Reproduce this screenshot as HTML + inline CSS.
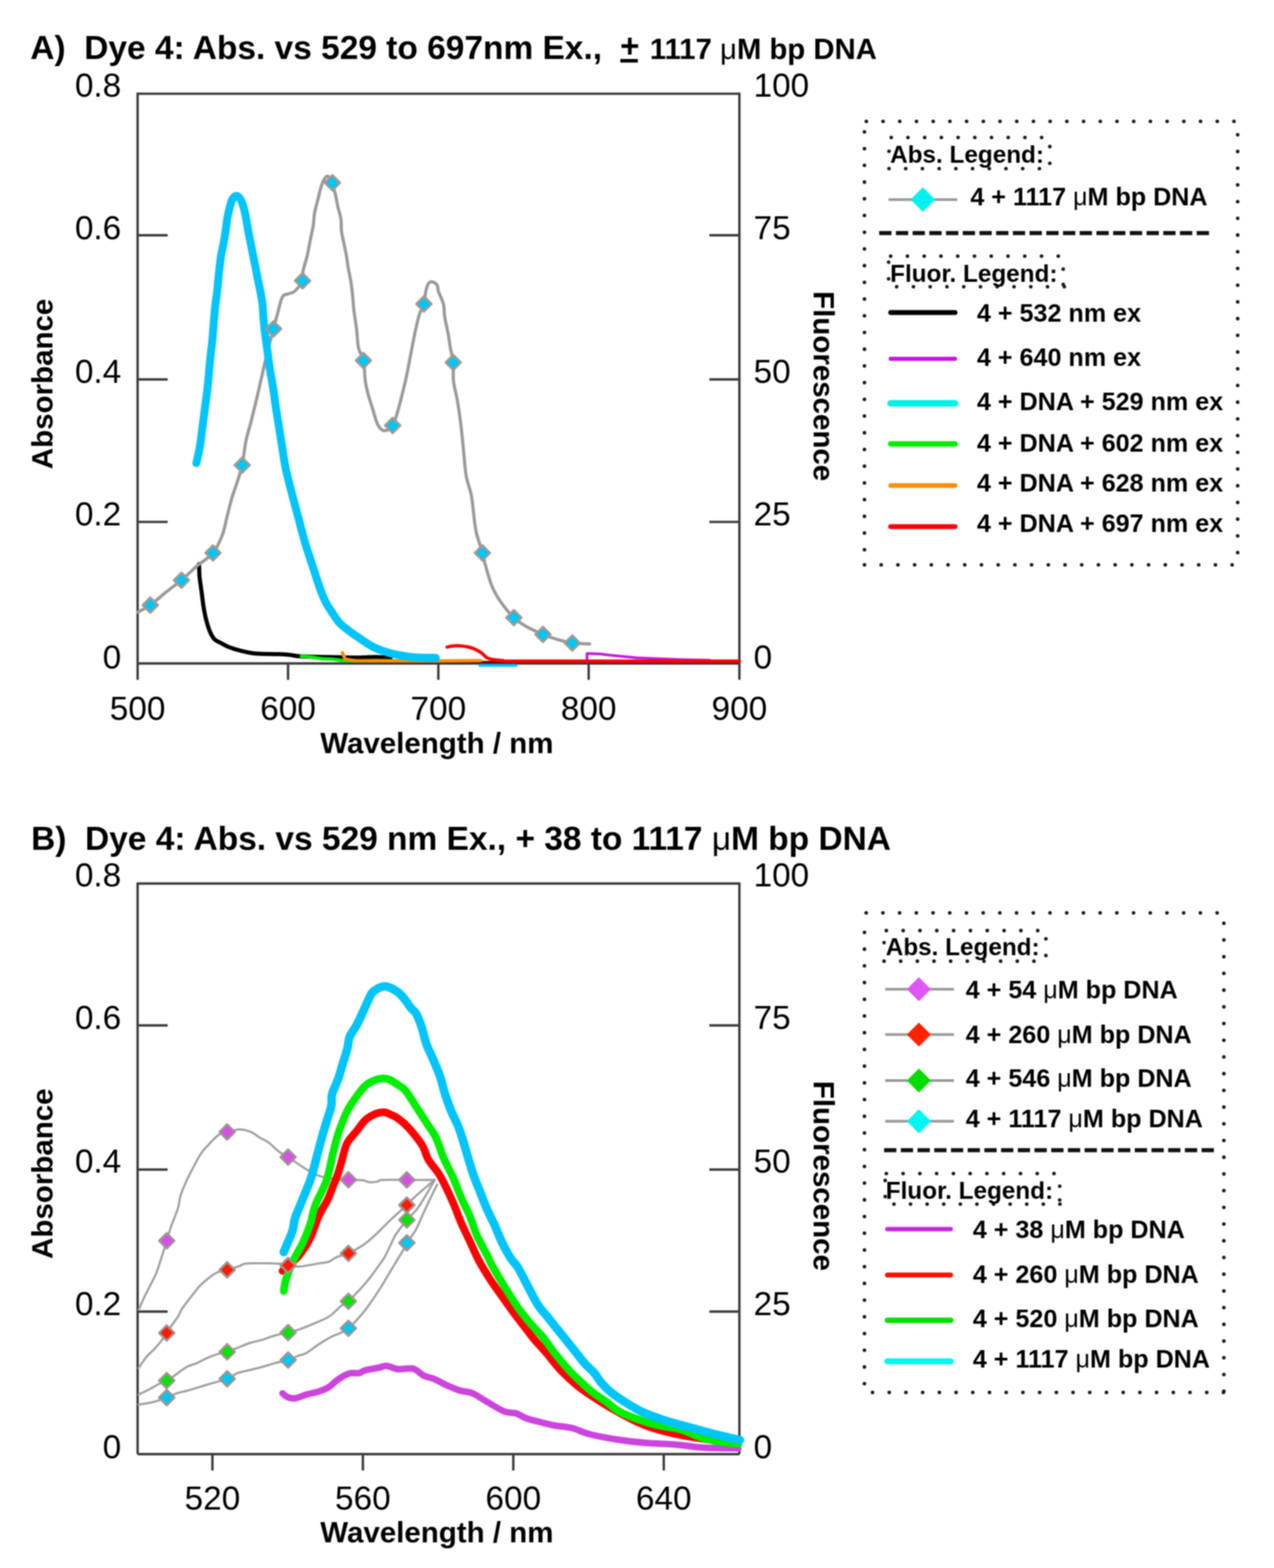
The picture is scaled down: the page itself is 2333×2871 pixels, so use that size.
<!DOCTYPE html>
<html><head><meta charset="utf-8"><title>Dye 4 absorbance and fluorescence</title>
<style>
html,body{margin:0;padding:0;background:#fff;}
body{width:2333px;height:2871px;overflow:hidden;}
svg{display:block;filter:blur(1px);}
text{font-family:"Liberation Sans", Arial, sans-serif;fill:#000;}
</style></head><body>
<svg width="2333" height="2871" viewBox="0 0 2333 2871">
<rect width="2333" height="2871" fill="#fff"/>
<line x1="252" y1="171.6" x2="1354" y2="171.6" stroke="#3c3c3c" stroke-width="4.4"/>
<line x1="252" y1="1214.8" x2="1354" y2="1214.8" stroke="#3c3c3c" stroke-width="4.4"/>
<line x1="252" y1="169.6" x2="252" y2="1244.8" stroke="#3c3c3c" stroke-width="4.4"/>
<line x1="1354" y1="169.6" x2="1354" y2="1244.8" stroke="#3c3c3c" stroke-width="4.4"/>
<line x1="252" y1="430.8" x2="307" y2="430.8" stroke="#3c3c3c" stroke-width="4.4"/>
<line x1="1299" y1="430.8" x2="1354" y2="430.8" stroke="#3c3c3c" stroke-width="4.4"/>
<line x1="252" y1="694.8" x2="307" y2="694.8" stroke="#3c3c3c" stroke-width="4.4"/>
<line x1="1299" y1="694.8" x2="1354" y2="694.8" stroke="#3c3c3c" stroke-width="4.4"/>
<line x1="252" y1="955.6" x2="307" y2="955.6" stroke="#3c3c3c" stroke-width="4.4"/>
<line x1="1299" y1="955.6" x2="1354" y2="955.6" stroke="#3c3c3c" stroke-width="4.4"/>
<line x1="527.5" y1="1214.8" x2="527.5" y2="1244.8" stroke="#3c3c3c" stroke-width="4.4"/>
<line x1="802.7" y1="1214.8" x2="802.7" y2="1244.8" stroke="#3c3c3c" stroke-width="4.4"/>
<line x1="1078" y1="1214.8" x2="1078" y2="1244.8" stroke="#3c3c3c" stroke-width="4.4"/>
<text x="222" y="177" font-size="61" font-weight="normal" text-anchor="end">0.8</text>
<text x="222" y="438" font-size="61" font-weight="normal" text-anchor="end">0.6</text>
<text x="222" y="701" font-size="61" font-weight="normal" text-anchor="end">0.4</text>
<text x="222" y="961.5" font-size="61" font-weight="normal" text-anchor="end">0.2</text>
<text x="222" y="1223.5" font-size="61" font-weight="normal" text-anchor="end">0</text>
<text x="1380" y="177" font-size="61" font-weight="normal" text-anchor="start">100</text>
<text x="1380" y="438" font-size="61" font-weight="normal" text-anchor="start">75</text>
<text x="1380" y="701" font-size="61" font-weight="normal" text-anchor="start">50</text>
<text x="1380" y="961.5" font-size="61" font-weight="normal" text-anchor="start">25</text>
<text x="1380" y="1223.5" font-size="61" font-weight="normal" text-anchor="start">0</text>
<text x="252" y="1317.5" font-size="61" font-weight="normal" text-anchor="middle">500</text>
<text x="527.5" y="1317.5" font-size="61" font-weight="normal" text-anchor="middle">600</text>
<text x="802.7" y="1317.5" font-size="61" font-weight="normal" text-anchor="middle">700</text>
<text x="1078" y="1317.5" font-size="61" font-weight="normal" text-anchor="middle">800</text>
<text x="1354" y="1317.5" font-size="61" font-weight="normal" text-anchor="middle">900</text>
<text x="800" y="1379" font-size="54" font-weight="bold" text-anchor="middle">Wavelength / nm</text>
<text x="96" y="703" font-size="54" font-weight="bold" text-anchor="middle" transform="rotate(-90 96 703)">Absorbance</text>
<text x="1490" y="707" font-size="54" font-weight="bold" text-anchor="middle" transform="rotate(90 1490 707)">Fluorescence</text>
<text x="55.5" y="108" font-size="61.3" font-weight="bold">A)&#160; Dye 4: Abs. vs 529 to 697nm Ex.,<tspan x="1135.5" y="104.6" font-size="61">+</tspan><tspan x="1190" y="108" font-size="53.7">1117 <tspan font-weight="normal">&#956;</tspan>M bp DNA</tspan></text>
<rect x="1136" y="108" width="32" height="6.5" fill="#000"/>
<path d="M820 1212 L1354 1212" fill="none" stroke="#7a0000" stroke-width="4" stroke-linejoin="round" stroke-linecap="round"/>
<path d="M878.5 1218.6 L945 1218.6" fill="none" stroke="#00c8ff" stroke-width="5" stroke-linejoin="round" stroke-linecap="round"/>
<path d="M364.5 1033 C364.7 1036.9 364.7 1048 365.5 1056.5 C366.3 1065 368 1074.9 369.2 1084 C370.4 1093.1 371.4 1102.9 372.8 1111.3 C374.2 1119.7 375.4 1126.6 377.4 1134.2 C379.4 1141.8 382.1 1150.9 384.7 1157 C387.3 1163.1 389.5 1167.3 392.9 1170.7 C396.2 1174.1 400.5 1175.2 404.8 1177.5 C409.1 1179.8 412.4 1182 418.5 1184.4 C424.6 1186.8 433.7 1189.7 441.3 1191.7 C448.9 1193.7 457.8 1195.4 464.2 1196.3 C470.6 1197.2 472 1197 480 1197.2 C488 1197.4 503.7 1197.4 512 1197.7 C520.3 1198 523.6 1198.3 530 1199 C536.4 1199.7 538.7 1201.1 550.4 1201.8 C562.1 1202.5 583.4 1202.6 600 1203 C616.6 1203.4 635 1204 650 1204 C665 1204 679.2 1202.8 690 1203 C700.8 1203.2 710.8 1204.7 715 1205" fill="none" stroke="#000" stroke-width="7.5" stroke-linejoin="round" stroke-linecap="round"/>
<path d="M551.8 1201.6 C554.8 1201.8 563.6 1202.3 570 1203 C576.4 1203.7 583.3 1205.3 590 1206 C596.7 1206.7 603.4 1206.4 610 1207 C616.6 1207.6 621.3 1209 629.6 1209.5 C637.9 1210 648.3 1210 660 1210 C671.7 1210 686.7 1209.5 700 1209.5 C713.3 1209.5 733.3 1209.9 740 1210" fill="none" stroke="#00ee00" stroke-width="6" stroke-linejoin="round" stroke-linecap="round"/>
<path d="M627 1195 L632 1207 L650 1209.5 L700 1210 L760 1210 L820 1210 L880 1209.5" fill="none" stroke="#ff8c00" stroke-width="6" stroke-linejoin="round" stroke-linecap="round"/>
<path d="M1075 1212 L1075 1196.5 L1100 1197.5 L1116 1199.6 L1166.9 1204.4 L1239.7 1207.5 L1300 1209" fill="none" stroke="#c81ae0" stroke-width="5" stroke-linejoin="round" stroke-linecap="round"/>
<path d="M818.8 1184.8 C821.8 1184.4 829.6 1182 837 1182.2 C844.4 1182.4 855.6 1183.9 862.9 1186 C870.2 1188.1 875.8 1191.8 881 1195 C886.2 1198.2 887.5 1203.1 894 1205.5 C900.5 1207.9 909 1208.6 920 1209.4 C931 1210.2 887.7 1210.3 960 1210.5 C1032.3 1210.7 1288.3 1210.5 1354 1210.5" fill="none" stroke="#ff0000" stroke-width="6" stroke-linejoin="round" stroke-linecap="round"/>
<path d="M252 1121 C255.9 1118.8 266.7 1114 275.2 1108 C283.7 1102 293.5 1092.6 303 1085 C312.5 1077.4 322.8 1070.3 332.3 1062.3 C341.8 1054.3 350.4 1045.3 360 1037 C369.6 1028.7 382.2 1021.8 390 1012.3 C397.8 1002.8 402.7 991.2 407 980 C411.3 968.8 413 956.6 416 945 C419 933.4 421.9 920.8 425 910.4 C428.1 900 431.2 892.6 434.3 882.8 C437.4 873 440.8 864.4 443.5 851.7 C446.2 839 447.8 820 450.5 806.7 C453.2 793.4 456.3 785.5 459.7 772 C463.1 758.5 467.6 740.6 471 726 C474.4 711.4 477.2 698.4 480.4 684.6 C483.6 670.8 486.6 656.8 490 643 C493.4 629.2 498 613.3 501 602 C504 590.7 505.3 584.7 508 575 C510.7 565.3 513.7 550.2 517 544 C520.3 537.8 524.2 539.8 528 538 C531.8 536.2 535.7 537 540 533 C544.3 529 551.6 519.9 554 514 C556.4 508.1 553.2 505.4 554.6 497.8 C556 490.2 560.3 478.1 562.5 468.5 C564.7 458.9 566.1 449.8 568 440.4 C569.9 431 572.4 420.8 573.7 412.4 C575 404 574.7 397.5 576 390 C577.3 382.5 579.7 374.9 581.6 367.4 C583.5 359.9 585.5 350.9 587.2 345 C588.9 339.1 590.2 335.3 591.7 332 C593.2 328.7 594.5 326.5 596 325 C597.5 323.5 599 321.4 601 323 C603 324.6 605.8 329.1 608 334.6 C610.2 340.1 612.4 348.9 614.2 356.2 C616 363.5 617 371.2 618.7 378.7 C620.4 386.2 623.2 393.5 624.3 401 C625.4 408.5 624.5 416.1 625.4 423.6 C626.3 431.1 628.4 438.5 629.9 446 C631.4 453.5 633.1 461 634.4 468.5 C635.7 476 636.5 483.5 637.8 491 C639.1 498.5 640.9 505.3 642.2 513.5 C643.5 521.7 644.6 530.9 645.6 540 C646.6 549.1 646.8 557.6 648 568 C649.2 578.4 651.6 591.1 653 602.6 C654.4 614.1 654.4 627.4 656.5 637 C658.6 646.6 663.4 649.9 665.5 660 C667.6 670.1 667.6 687.5 669 697.6 C670.4 707.7 671.4 711.8 673.7 720.6 C676 729.4 680 741 683 750.6 C686 760.2 688.5 771.7 692 778 C695.5 784.3 699.2 788.4 703.7 788.6 C708.2 788.8 714.8 785.3 719 779 C723.2 772.7 725.8 761.1 729 750.6 C732.2 740.1 735.3 726.8 738 716 C740.7 705.2 742.3 699.2 745 686 C747.7 672.8 751.7 650.9 754.4 637 C757.1 623.1 759 612.9 761.3 602.6 C763.6 592.3 765.7 582.7 768.2 575 C770.7 567.3 774.4 563.4 776.3 556.5 C778.2 549.6 778.4 539.6 779.7 533.5 C781 527.4 782.4 522.5 784.3 519.6 C786.2 516.7 788.5 515.6 791.2 516 C793.9 516.4 798.6 519.1 800.5 522 C802.4 524.9 800.9 527.8 802.8 533.5 C804.7 539.2 810.1 548.8 812 556.5 C813.9 564.2 812.8 569.9 814.3 579.5 C815.8 589.1 819.5 604.4 821.2 614 C822.9 623.6 823.2 628.7 824.7 637 C826.2 645.3 829 653.5 830 663.6 C831 673.7 829.2 686.2 830.4 697.6 C831.6 709 835 718.6 837.3 732 C839.6 745.4 842.1 762.7 844 778 C845.9 793.3 847.2 808.6 848.8 824 C850.4 839.4 851.2 856.9 853.5 870.4 C855.8 883.9 860.4 893.5 862.7 905 C865 916.5 865.8 928 867.3 939.5 C868.8 951 869.3 961.9 872 974 C874.7 986.1 880.7 1002.4 883.4 1012 C886.1 1021.6 885.1 1021.6 888 1031.7 C890.9 1041.9 896 1061.3 900.7 1072.9 C905.5 1084.5 909.8 1091.7 916.5 1101.4 C923.2 1111.1 933.1 1123.2 941 1130.9 C948.9 1138.6 955.1 1142.2 964 1147.3 C972.9 1152.4 984.7 1157.6 994.2 1161.6 C1003.7 1165.5 1012 1168.4 1021 1171 C1030 1173.6 1038.2 1176.1 1048 1177.4 C1057.8 1178.7 1074.4 1178.7 1079.7 1179" fill="none" stroke="#9a9a9a" stroke-width="5.8" stroke-linejoin="round" stroke-linecap="round"/>
<path d="M359.5 848 C360.6 843 364.2 828.7 366 818 C367.8 807.3 369 795.5 370.5 784 C372 772.5 373.5 760.5 375 749 C376.5 737.5 378.4 724.5 379.5 715 C380.6 705.5 380.9 701.7 381.8 692 C382.7 682.3 383.8 668.5 385 657 C386.2 645.5 387.7 634.5 388.8 623 C389.9 611.5 390.7 599 391.6 588 C392.6 577 393.5 565.8 394.5 557 C395.5 548.2 396.6 542.5 397.5 535 C398.4 527.5 398.9 519.5 399.7 512 C400.4 504.5 401.1 497.5 402 490 C402.9 482.5 403.8 474.5 405 467 C406.2 459.5 408 452.4 409.4 445 C410.8 437.6 412.1 430 413.2 422.5 C414.3 415 415.1 406.6 416.2 400 C417.3 393.4 418.5 388.7 420 383 C421.5 377.3 422.8 370.1 425 366 C427.2 361.9 430.3 358.5 433 358.5 C435.7 358.5 438.7 361.9 441 366 C443.3 370.1 445.4 377.3 447 383 C448.6 388.7 449.4 393.4 450.7 400 C451.9 406.6 453.1 415 454.5 422.5 C455.9 430 457.5 437.5 459 445 C460.5 452.5 461.9 459.9 463.4 467.4 C464.9 474.9 466.5 482.5 468 490 C469.5 497.5 470.9 504.9 472.4 512.4 C473.9 519.9 475.6 527.3 477 534.8 C478.4 542.3 479.8 549.3 480.7 557.3 C481.6 565.2 481.8 574.5 482.5 582.5 C483.2 590.5 483.8 597.5 484.7 605 C485.6 612.5 486.7 619.9 487.7 627.4 C488.7 634.9 489.7 642.4 490.7 649.9 C491.7 657.4 492.6 664.9 493.7 672.4 C494.8 679.9 496.2 687.3 497.5 694.8 C498.8 702.3 499.9 708.9 501.2 717.3 C502.4 725.7 503.6 735.7 505 745 C506.4 754.3 507.7 761.5 509.5 773 C511.3 784.5 513.8 800.3 516 814 C518.2 827.7 519.9 841.3 522.6 855 C525.4 868.7 528.7 881 532.5 896 C536.3 911 541.2 928.7 545.6 945 C550 961.3 554.3 979 558.7 994 C563.1 1009 567.5 1021.3 572 1035 C576.5 1048.7 581.5 1064.9 585.5 1076 C589.5 1087.1 592.1 1094 596 1101.8 C599.9 1109.6 604.6 1116.1 608.9 1122.6 C613.2 1129.1 617 1135.5 621.8 1140.7 C626.5 1145.9 631.8 1149.4 637.4 1153.7 C643 1158 648.2 1161.6 655.5 1166.6 C662.8 1171.6 672.8 1178.9 681.4 1183.5 C690 1188.1 698.8 1191.2 707.4 1194 C716 1196.8 724.7 1198.4 733.3 1200 C741.9 1201.6 748.4 1202.8 759.2 1203.5 C770 1204.2 791.5 1204.3 798 1204.5" fill="none" stroke="#00c4fa" stroke-width="14.5" stroke-linejoin="round" stroke-linecap="round"/>
<path d="M275.2 1094L289.2 1108L275.2 1122L261.2 1108Z" fill="#00c6f6" stroke="#a8988f" stroke-width="4" stroke-linejoin="round"/>
<path d="M332.3 1048.3L346.3 1062.3L332.3 1076.3L318.3 1062.3Z" fill="#00c6f6" stroke="#a8988f" stroke-width="4" stroke-linejoin="round"/>
<path d="M390 998.3L404 1012.3L390 1026.3L376 1012.3Z" fill="#00c6f6" stroke="#a8988f" stroke-width="4" stroke-linejoin="round"/>
<path d="M443.5 837.7L457.5 851.7L443.5 865.7L429.5 851.7Z" fill="#00c6f6" stroke="#a8988f" stroke-width="4" stroke-linejoin="round"/>
<path d="M501 588L515 602L501 616L487 602Z" fill="#00c6f6" stroke="#a8988f" stroke-width="4" stroke-linejoin="round"/>
<path d="M554 500L568 514L554 528L540 514Z" fill="#00c6f6" stroke="#a8988f" stroke-width="4" stroke-linejoin="round"/>
<path d="M608.8 320.6L622.8 334.6L608.8 348.6L594.8 334.6Z" fill="#00c6f6" stroke="#a8988f" stroke-width="4" stroke-linejoin="round"/>
<path d="M665.5 646.2L679.5 660.2L665.5 674.2L651.5 660.2Z" fill="#00c6f6" stroke="#a8988f" stroke-width="4" stroke-linejoin="round"/>
<path d="M719 765L733 779L719 793L705 779Z" fill="#00c6f6" stroke="#a8988f" stroke-width="4" stroke-linejoin="round"/>
<path d="M776.3 542.5L790.3 556.5L776.3 570.5L762.3 556.5Z" fill="#00c6f6" stroke="#a8988f" stroke-width="4" stroke-linejoin="round"/>
<path d="M830 649.6L844 663.6L830 677.6L816 663.6Z" fill="#00c6f6" stroke="#a8988f" stroke-width="4" stroke-linejoin="round"/>
<path d="M883.4 998.4L897.4 1012.4L883.4 1026.4L869.4 1012.4Z" fill="#00c6f6" stroke="#a8988f" stroke-width="4" stroke-linejoin="round"/>
<path d="M941 1116.9L955 1130.9L941 1144.9L927 1130.9Z" fill="#00c6f6" stroke="#a8988f" stroke-width="4" stroke-linejoin="round"/>
<path d="M994.2 1147.6L1008.2 1161.6L994.2 1175.6L980.2 1161.6Z" fill="#00c6f6" stroke="#a8988f" stroke-width="4" stroke-linejoin="round"/>
<path d="M1048 1163.4L1062 1177.4L1048 1191.4L1034 1177.4Z" fill="#00c6f6" stroke="#a8988f" stroke-width="4" stroke-linejoin="round"/>
<circle cx="1586.5" cy="222.2" r="3.3" fill="#1a1a1a"/>
<circle cx="1617.1" cy="222.2" r="3.3" fill="#1a1a1a"/>
<circle cx="1647.7" cy="222.2" r="3.3" fill="#1a1a1a"/>
<circle cx="1678.3" cy="222.2" r="3.3" fill="#1a1a1a"/>
<circle cx="1708.9" cy="222.2" r="3.3" fill="#1a1a1a"/>
<circle cx="1739.5" cy="222.2" r="3.3" fill="#1a1a1a"/>
<circle cx="1770.1" cy="222.2" r="3.3" fill="#1a1a1a"/>
<circle cx="1800.7" cy="222.2" r="3.3" fill="#1a1a1a"/>
<circle cx="1831.3" cy="222.2" r="3.3" fill="#1a1a1a"/>
<circle cx="1861.9" cy="222.2" r="3.3" fill="#1a1a1a"/>
<circle cx="1892.5" cy="222.2" r="3.3" fill="#1a1a1a"/>
<circle cx="1923.1" cy="222.2" r="3.3" fill="#1a1a1a"/>
<circle cx="1953.7" cy="222.2" r="3.3" fill="#1a1a1a"/>
<circle cx="1984.3" cy="222.2" r="3.3" fill="#1a1a1a"/>
<circle cx="2014.9" cy="222.2" r="3.3" fill="#1a1a1a"/>
<circle cx="2045.5" cy="222.2" r="3.3" fill="#1a1a1a"/>
<circle cx="2076.1" cy="222.2" r="3.3" fill="#1a1a1a"/>
<circle cx="2106.7" cy="222.2" r="3.3" fill="#1a1a1a"/>
<circle cx="2137.3" cy="222.2" r="3.3" fill="#1a1a1a"/>
<circle cx="2167.9" cy="222.2" r="3.3" fill="#1a1a1a"/>
<circle cx="2198.5" cy="222.2" r="3.3" fill="#1a1a1a"/>
<circle cx="2229.1" cy="222.2" r="3.3" fill="#1a1a1a"/>
<circle cx="2259.7" cy="222.2" r="3.3" fill="#1a1a1a"/>
<circle cx="1583" cy="241.6" r="3.3" fill="#1a1a1a"/>
<circle cx="1583" cy="272.2" r="3.3" fill="#1a1a1a"/>
<circle cx="1583" cy="302.8" r="3.3" fill="#1a1a1a"/>
<circle cx="1583" cy="333.4" r="3.3" fill="#1a1a1a"/>
<circle cx="1583" cy="364" r="3.3" fill="#1a1a1a"/>
<circle cx="1583" cy="394.6" r="3.3" fill="#1a1a1a"/>
<circle cx="1583" cy="425.2" r="3.3" fill="#1a1a1a"/>
<circle cx="1583" cy="455.8" r="3.3" fill="#1a1a1a"/>
<circle cx="1583" cy="486.4" r="3.3" fill="#1a1a1a"/>
<circle cx="1583" cy="517" r="3.3" fill="#1a1a1a"/>
<circle cx="1583" cy="547.6" r="3.3" fill="#1a1a1a"/>
<circle cx="1583" cy="578.2" r="3.3" fill="#1a1a1a"/>
<circle cx="1583" cy="608.8" r="3.3" fill="#1a1a1a"/>
<circle cx="1583" cy="639.4" r="3.3" fill="#1a1a1a"/>
<circle cx="1583" cy="670" r="3.3" fill="#1a1a1a"/>
<circle cx="1583" cy="700.6" r="3.3" fill="#1a1a1a"/>
<circle cx="1583" cy="731.2" r="3.3" fill="#1a1a1a"/>
<circle cx="1583" cy="761.8" r="3.3" fill="#1a1a1a"/>
<circle cx="1583" cy="792.4" r="3.3" fill="#1a1a1a"/>
<circle cx="1583" cy="823" r="3.3" fill="#1a1a1a"/>
<circle cx="1583" cy="853.6" r="3.3" fill="#1a1a1a"/>
<circle cx="1583" cy="884.2" r="3.3" fill="#1a1a1a"/>
<circle cx="1583" cy="914.8" r="3.3" fill="#1a1a1a"/>
<circle cx="1583" cy="945.4" r="3.3" fill="#1a1a1a"/>
<circle cx="1583" cy="976" r="3.3" fill="#1a1a1a"/>
<circle cx="1583" cy="1006.6" r="3.3" fill="#1a1a1a"/>
<circle cx="2266.5" cy="246.8" r="3.3" fill="#1a1a1a"/>
<circle cx="2266.5" cy="277.4" r="3.3" fill="#1a1a1a"/>
<circle cx="2266.5" cy="308" r="3.3" fill="#1a1a1a"/>
<circle cx="2266.5" cy="338.6" r="3.3" fill="#1a1a1a"/>
<circle cx="2266.5" cy="369.2" r="3.3" fill="#1a1a1a"/>
<circle cx="2266.5" cy="399.8" r="3.3" fill="#1a1a1a"/>
<circle cx="2266.5" cy="430.4" r="3.3" fill="#1a1a1a"/>
<circle cx="2266.5" cy="461" r="3.3" fill="#1a1a1a"/>
<circle cx="2266.5" cy="491.6" r="3.3" fill="#1a1a1a"/>
<circle cx="2266.5" cy="522.2" r="3.3" fill="#1a1a1a"/>
<circle cx="2266.5" cy="552.8" r="3.3" fill="#1a1a1a"/>
<circle cx="2266.5" cy="583.4" r="3.3" fill="#1a1a1a"/>
<circle cx="2266.5" cy="614" r="3.3" fill="#1a1a1a"/>
<circle cx="2266.5" cy="644.6" r="3.3" fill="#1a1a1a"/>
<circle cx="2266.5" cy="675.2" r="3.3" fill="#1a1a1a"/>
<circle cx="2266.5" cy="705.8" r="3.3" fill="#1a1a1a"/>
<circle cx="2266.5" cy="736.4" r="3.3" fill="#1a1a1a"/>
<circle cx="2266.5" cy="767" r="3.3" fill="#1a1a1a"/>
<circle cx="2266.5" cy="797.6" r="3.3" fill="#1a1a1a"/>
<circle cx="2266.5" cy="828.2" r="3.3" fill="#1a1a1a"/>
<circle cx="2266.5" cy="858.8" r="3.3" fill="#1a1a1a"/>
<circle cx="2266.5" cy="889.4" r="3.3" fill="#1a1a1a"/>
<circle cx="2266.5" cy="920" r="3.3" fill="#1a1a1a"/>
<circle cx="2266.5" cy="950.6" r="3.3" fill="#1a1a1a"/>
<circle cx="2266.5" cy="981.2" r="3.3" fill="#1a1a1a"/>
<circle cx="2266.5" cy="1011.8" r="3.3" fill="#1a1a1a"/>
<circle cx="1583.1" cy="1034.2" r="3.3" fill="#1a1a1a"/>
<circle cx="1613.7" cy="1034.2" r="3.3" fill="#1a1a1a"/>
<circle cx="1644.3" cy="1034.2" r="3.3" fill="#1a1a1a"/>
<circle cx="1674.9" cy="1034.2" r="3.3" fill="#1a1a1a"/>
<circle cx="1705.5" cy="1034.2" r="3.3" fill="#1a1a1a"/>
<circle cx="1736.1" cy="1034.2" r="3.3" fill="#1a1a1a"/>
<circle cx="1766.7" cy="1034.2" r="3.3" fill="#1a1a1a"/>
<circle cx="1797.3" cy="1034.2" r="3.3" fill="#1a1a1a"/>
<circle cx="1827.9" cy="1034.2" r="3.3" fill="#1a1a1a"/>
<circle cx="1858.5" cy="1034.2" r="3.3" fill="#1a1a1a"/>
<circle cx="1889.1" cy="1034.2" r="3.3" fill="#1a1a1a"/>
<circle cx="1919.7" cy="1034.2" r="3.3" fill="#1a1a1a"/>
<circle cx="1950.3" cy="1034.2" r="3.3" fill="#1a1a1a"/>
<circle cx="1980.9" cy="1034.2" r="3.3" fill="#1a1a1a"/>
<circle cx="2011.5" cy="1034.2" r="3.3" fill="#1a1a1a"/>
<circle cx="2042.1" cy="1034.2" r="3.3" fill="#1a1a1a"/>
<circle cx="2072.7" cy="1034.2" r="3.3" fill="#1a1a1a"/>
<circle cx="2103.3" cy="1034.2" r="3.3" fill="#1a1a1a"/>
<circle cx="2133.9" cy="1034.2" r="3.3" fill="#1a1a1a"/>
<circle cx="2164.5" cy="1034.2" r="3.3" fill="#1a1a1a"/>
<circle cx="2195.1" cy="1034.2" r="3.3" fill="#1a1a1a"/>
<circle cx="2225.7" cy="1034.2" r="3.3" fill="#1a1a1a"/>
<circle cx="2256.3" cy="1034.2" r="3.3" fill="#1a1a1a"/>
<circle cx="1632.1" cy="251.8" r="3.3" fill="#1a1a1a"/>
<circle cx="1662.7" cy="251.8" r="3.3" fill="#1a1a1a"/>
<circle cx="1693.3" cy="251.8" r="3.3" fill="#1a1a1a"/>
<circle cx="1723.9" cy="251.8" r="3.3" fill="#1a1a1a"/>
<circle cx="1754.5" cy="251.8" r="3.3" fill="#1a1a1a"/>
<circle cx="1785.1" cy="251.8" r="3.3" fill="#1a1a1a"/>
<circle cx="1815.7" cy="251.8" r="3.3" fill="#1a1a1a"/>
<circle cx="1846.3" cy="251.8" r="3.3" fill="#1a1a1a"/>
<circle cx="1876.9" cy="251.8" r="3.3" fill="#1a1a1a"/>
<circle cx="1907.5" cy="251.8" r="3.3" fill="#1a1a1a"/>
<circle cx="1628" cy="308.8" r="3.3" fill="#1a1a1a"/>
<circle cx="1658.6" cy="308.8" r="3.3" fill="#1a1a1a"/>
<circle cx="1689.2" cy="308.8" r="3.3" fill="#1a1a1a"/>
<circle cx="1719.8" cy="308.8" r="3.3" fill="#1a1a1a"/>
<circle cx="1750.4" cy="308.8" r="3.3" fill="#1a1a1a"/>
<circle cx="1781" cy="308.8" r="3.3" fill="#1a1a1a"/>
<circle cx="1811.6" cy="308.8" r="3.3" fill="#1a1a1a"/>
<circle cx="1842.2" cy="308.8" r="3.3" fill="#1a1a1a"/>
<circle cx="1872.8" cy="308.8" r="3.3" fill="#1a1a1a"/>
<circle cx="1903.4" cy="308.8" r="3.3" fill="#1a1a1a"/>
<circle cx="1628" cy="277" r="3.3" fill="#1a1a1a"/>
<circle cx="1922.5" cy="268.4" r="3.3" fill="#1a1a1a"/>
<circle cx="1922.5" cy="299" r="3.3" fill="#1a1a1a"/>
<text x="1630" y="297.5" font-size="44.5" font-weight="bold" text-anchor="start">Abs. Legend:</text>
<line x1="1627" y1="365.4" x2="1753" y2="365.4" stroke="#9a9a9a" stroke-width="5"/>
<path d="M1690 343.4L1712 365.4L1690 387.4L1668 365.4Z" fill="#00f2f0" stroke="#00f2f0" stroke-width="1" stroke-linejoin="round"/>
<text x="1777" y="375.5" font-size="46" font-weight="bold" text-anchor="start">4 + 1117 <tspan font-weight="normal">&#956;</tspan>M bp DNA</text>
<line x1="1610" y1="426.7" x2="2216" y2="426.7" stroke="#111" stroke-width="7.5" stroke-dasharray="22.5 8.1"/>
<circle cx="1631" cy="469" r="3.3" fill="#1a1a1a"/>
<circle cx="1661.7" cy="469" r="3.3" fill="#1a1a1a"/>
<circle cx="1692.4" cy="469" r="3.3" fill="#1a1a1a"/>
<circle cx="1723.1" cy="469" r="3.3" fill="#1a1a1a"/>
<circle cx="1753.8" cy="469" r="3.3" fill="#1a1a1a"/>
<circle cx="1784.5" cy="469" r="3.3" fill="#1a1a1a"/>
<circle cx="1815.2" cy="469" r="3.3" fill="#1a1a1a"/>
<circle cx="1845.9" cy="469" r="3.3" fill="#1a1a1a"/>
<circle cx="1876.6" cy="469" r="3.3" fill="#1a1a1a"/>
<circle cx="1907.3" cy="469" r="3.3" fill="#1a1a1a"/>
<circle cx="1938" cy="469" r="3.3" fill="#1a1a1a"/>
<circle cx="1642" cy="525" r="3.3" fill="#1a1a1a"/>
<circle cx="1672.7" cy="525" r="3.3" fill="#1a1a1a"/>
<circle cx="1703.4" cy="525" r="3.3" fill="#1a1a1a"/>
<circle cx="1734.1" cy="525" r="3.3" fill="#1a1a1a"/>
<circle cx="1764.8" cy="525" r="3.3" fill="#1a1a1a"/>
<circle cx="1795.5" cy="525" r="3.3" fill="#1a1a1a"/>
<circle cx="1826.2" cy="525" r="3.3" fill="#1a1a1a"/>
<circle cx="1856.9" cy="525" r="3.3" fill="#1a1a1a"/>
<circle cx="1887.6" cy="525" r="3.3" fill="#1a1a1a"/>
<circle cx="1918.3" cy="525" r="3.3" fill="#1a1a1a"/>
<circle cx="1949" cy="525" r="3.3" fill="#1a1a1a"/>
<circle cx="1627.3" cy="480" r="3.3" fill="#1a1a1a"/>
<circle cx="1627.3" cy="510.6" r="3.3" fill="#1a1a1a"/>
<circle cx="1947" cy="492.8" r="3.3" fill="#1a1a1a"/>
<circle cx="1947" cy="520.8" r="3.3" fill="#1a1a1a"/>
<text x="1630" y="516" font-size="44.5" font-weight="bold" text-anchor="start">Fluor. Legend:</text>
<line x1="1631" y1="572.3" x2="1749" y2="572.3" stroke="#000000" stroke-width="9" stroke-linecap="round"/>
<text x="1789" y="588.5" font-size="46" font-weight="bold" text-anchor="start">4 + 532 nm ex</text>
<line x1="1631" y1="657" x2="1749" y2="657" stroke="#c814e0" stroke-width="7.5" stroke-linecap="round"/>
<text x="1789" y="670.4" font-size="46" font-weight="bold" text-anchor="start">4 + 640 nm ex</text>
<line x1="1631" y1="738.4" x2="1749" y2="738.4" stroke="#00f2e4" stroke-width="12" stroke-linecap="round"/>
<text x="1789" y="751" font-size="46" font-weight="bold" text-anchor="start">4 + DNA + 529 nm ex</text>
<line x1="1631" y1="812.8" x2="1749" y2="812.8" stroke="#00ee00" stroke-width="10" stroke-linecap="round"/>
<text x="1789" y="826.5" font-size="46" font-weight="bold" text-anchor="start">4 + DNA + 602 nm ex</text>
<line x1="1631" y1="889" x2="1749" y2="889" stroke="#ff8c00" stroke-width="8.5" stroke-linecap="round"/>
<text x="1789" y="899.7" font-size="46" font-weight="bold" text-anchor="start">4 + DNA + 628 nm ex</text>
<line x1="1631" y1="964.2" x2="1749" y2="964.2" stroke="#ff0000" stroke-width="9" stroke-linecap="round"/>
<text x="1789" y="974" font-size="46" font-weight="bold" text-anchor="start">4 + DNA + 697 nm ex</text>
<line x1="252" y1="1617.8" x2="1354" y2="1617.8" stroke="#3c3c3c" stroke-width="4.4"/>
<line x1="252" y1="2662.5" x2="1354" y2="2662.5" stroke="#3c3c3c" stroke-width="4.4"/>
<line x1="252" y1="1615.8" x2="252" y2="2662.5" stroke="#3c3c3c" stroke-width="4.4"/>
<line x1="1354" y1="1615.8" x2="1354" y2="2662.5" stroke="#3c3c3c" stroke-width="4.4"/>
<line x1="252" y1="1877.5" x2="307" y2="1877.5" stroke="#3c3c3c" stroke-width="4.4"/>
<line x1="1299" y1="1877.5" x2="1354" y2="1877.5" stroke="#3c3c3c" stroke-width="4.4"/>
<line x1="252" y1="2141.5" x2="307" y2="2141.5" stroke="#3c3c3c" stroke-width="4.4"/>
<line x1="1299" y1="2141.5" x2="1354" y2="2141.5" stroke="#3c3c3c" stroke-width="4.4"/>
<line x1="252" y1="2401.5" x2="307" y2="2401.5" stroke="#3c3c3c" stroke-width="4.4"/>
<line x1="1299" y1="2401.5" x2="1354" y2="2401.5" stroke="#3c3c3c" stroke-width="4.4"/>
<line x1="389" y1="2662.5" x2="389" y2="2692.5" stroke="#3c3c3c" stroke-width="4.4"/>
<line x1="664.5" y1="2662.5" x2="664.5" y2="2692.5" stroke="#3c3c3c" stroke-width="4.4"/>
<line x1="940" y1="2662.5" x2="940" y2="2692.5" stroke="#3c3c3c" stroke-width="4.4"/>
<line x1="1215.5" y1="2662.5" x2="1215.5" y2="2692.5" stroke="#3c3c3c" stroke-width="4.4"/>
<text x="222" y="1623.2" font-size="61" font-weight="normal" text-anchor="end">0.8</text>
<text x="222" y="1884.2" font-size="61" font-weight="normal" text-anchor="end">0.6</text>
<text x="222" y="2147.2" font-size="61" font-weight="normal" text-anchor="end">0.4</text>
<text x="222" y="2407.7" font-size="61" font-weight="normal" text-anchor="end">0.2</text>
<text x="222" y="2669.7" font-size="61" font-weight="normal" text-anchor="end">0</text>
<text x="1380" y="1623.2" font-size="61" font-weight="normal" text-anchor="start">100</text>
<text x="1380" y="1884.2" font-size="61" font-weight="normal" text-anchor="start">75</text>
<text x="1380" y="2147.2" font-size="61" font-weight="normal" text-anchor="start">50</text>
<text x="1380" y="2407.7" font-size="61" font-weight="normal" text-anchor="start">25</text>
<text x="1380" y="2669.7" font-size="61" font-weight="normal" text-anchor="start">0</text>
<text x="389" y="2764" font-size="61" font-weight="normal" text-anchor="middle">520</text>
<text x="664.5" y="2764" font-size="61" font-weight="normal" text-anchor="middle">560</text>
<text x="940" y="2764" font-size="61" font-weight="normal" text-anchor="middle">600</text>
<text x="1215.5" y="2764" font-size="61" font-weight="normal" text-anchor="middle">640</text>
<text x="800" y="2824" font-size="54" font-weight="bold" text-anchor="middle">Wavelength / nm</text>
<text x="96" y="2149" font-size="54" font-weight="bold" text-anchor="middle" transform="rotate(-90 96 2149)">Absorbance</text>
<text x="1490" y="2153" font-size="54" font-weight="bold" text-anchor="middle" transform="rotate(90 1490 2153)">Fluorescence</text>
<text x="57" y="1556" font-size="61.3" font-weight="bold" text-anchor="start">B)&#160; Dye 4: Abs. vs 529 nm Ex., + 38 to 1117 <tspan font-weight="normal">&#956;</tspan>M bp DNA</text>
<path d="M254 2398 C255.6 2394.3 260.6 2382.7 263.8 2376 C267 2369.3 269.5 2364.5 273 2357.6 C276.5 2350.7 281.5 2341.5 284.6 2334.6 C287.7 2327.7 288.1 2326.4 291.5 2316 C294.9 2305.6 301.9 2283.1 305.3 2271.9 C308.8 2260.7 308.8 2258.8 312.2 2248.8 C315.6 2238.8 322.9 2222 326 2212 C329.1 2202 327.9 2197.5 330.6 2189 C333.3 2180.5 337.8 2170.2 342 2161 C346.2 2151.8 351.8 2141.6 356 2133.6 C360.2 2125.6 363.7 2118.8 367.5 2113 C371.3 2107.2 373.6 2104.8 379 2099 C384.4 2093.2 393.6 2082.7 399.8 2078.3 C406 2073.9 409.5 2074.3 416 2072.6 C422.5 2070.9 431.7 2068 439 2068 C446.3 2068 453.6 2070.1 459.7 2072.6 C465.8 2075.1 470.4 2079.8 475.8 2083 C481.2 2086.2 486.2 2087.8 492 2092 C497.8 2096.2 504.5 2103.9 510.4 2108.3 C516.3 2112.8 521.1 2114.5 527.6 2118.7 C534.1 2122.9 542 2128.8 549.5 2133.6 C557 2138.4 566.1 2144 572.6 2147.5 C579.1 2151 581.6 2152.5 588.7 2154.4 C595.8 2156.3 606.8 2158 615 2159 C623.2 2160 629.8 2160.1 638 2160.4 C646.2 2160.7 658.2 2160.3 664.5 2161 C670.8 2161.7 671.4 2164.1 676 2164.5 C680.6 2164.9 688.2 2164.1 692 2163.4 C695.8 2162.7 690.2 2160.9 699 2160.4 C707.8 2159.9 728.9 2160.4 745 2160.4 C761.1 2160.4 787.4 2160.4 795.9 2160.4" fill="none" stroke="#a0a0a0" stroke-width="4" stroke-linejoin="round" stroke-linecap="round"/>
<path d="M253.5 2505 C256 2501.6 263.6 2490.1 268.4 2484.3 C273.2 2478.6 277.7 2475.5 282.3 2470.5 C286.9 2465.5 292.2 2459.4 296 2454.4 C299.8 2449.4 302.2 2445.2 305.3 2440.6 C308.4 2436 311.1 2431.7 314.5 2426.7 C317.9 2421.7 322.9 2415.6 326 2410.6 C329.1 2405.6 329.5 2402.2 333 2396.8 C336.5 2391.4 341.4 2385.2 346.8 2378.3 C352.2 2371.4 359.1 2361.8 365.2 2355.3 C371.3 2348.8 378.2 2343.4 383.6 2339.2 C389 2335 392.1 2332.3 397.5 2330 C402.9 2327.7 409.1 2327.3 416 2325.3 C422.9 2323.3 432.9 2320 439 2318 C445.1 2316 440.9 2314.1 452.8 2313.4 C464.7 2312.7 497.9 2313.2 510.4 2313.8 C522.9 2314.5 521.1 2316.4 527.6 2317.3 C534.1 2318.2 540.1 2319.7 549.5 2319 C558.9 2318.3 575.2 2314.9 584 2313.4 C592.8 2311.9 597.1 2311.9 602.5 2310 C607.9 2308.1 610.5 2304.4 616.4 2301.8 C622.3 2299.2 631.1 2297.6 638 2294.7 C644.9 2291.8 652 2287.6 657.6 2284.3 C663.2 2281 665.7 2279.6 671.4 2275 C677.1 2270.4 684.7 2263.6 692 2256.7 C699.3 2249.8 706.4 2242 715.2 2233.6 C724 2225.2 737.3 2213.8 745 2206.5 C752.7 2199.2 752.8 2197.6 761.3 2189.9 C769.8 2182.2 790.1 2165.3 795.9 2160.4" fill="none" stroke="#a0a0a0" stroke-width="4" stroke-linejoin="round" stroke-linecap="round"/>
<path d="M253.5 2553.5 C256.8 2551.9 267.1 2547.3 273 2544.2 C278.9 2541.1 283.8 2537.7 289.2 2535 C294.6 2532.3 300.3 2530.8 305.3 2528.1 C310.3 2525.4 312.9 2523.2 319 2519 C325.1 2514.8 335.3 2506.7 342.2 2502.8 C349.1 2499 354.5 2498.6 360.6 2495.9 C366.7 2493.2 372.9 2489.3 379 2486.6 C385.1 2483.9 391.3 2481.6 397.5 2479.7 C403.7 2477.8 409.9 2477 416 2475.1 C422.1 2473.2 427.4 2470.9 434.3 2468.2 C441.2 2465.5 449.7 2461.5 457.4 2459 C465.1 2456.5 472.7 2455.5 480.4 2453.2 C488.1 2450.9 495.6 2447.4 503.5 2445.2 C511.4 2443 519.9 2441.8 527.6 2439.9 C535.3 2438 542 2436.2 549.5 2433.6 C557 2431 563.8 2428.2 572.6 2424.4 C581.4 2420.6 594 2416 602.5 2410.6 C611 2405.2 617.4 2396.9 623.3 2392.2 C629.2 2387.5 632.3 2387.2 638 2382.3 C643.7 2377.4 651.6 2369 657.6 2362.7 C663.6 2356.3 668.7 2350.3 673.7 2344.2 C678.7 2338 682.6 2332.7 687.6 2325.8 C692.6 2318.9 699.5 2309.7 703.7 2302.8 C707.9 2295.9 709.5 2291.2 713 2284.3 C716.5 2277.4 719.1 2269.8 724.4 2261.3 C729.7 2252.9 738.1 2242.1 745 2233.6 C751.9 2225.1 757.5 2222.7 766 2210.6 C774.5 2198.5 790.9 2169.3 795.9 2161" fill="none" stroke="#a0a0a0" stroke-width="4" stroke-linejoin="round" stroke-linecap="round"/>
<path d="M253.5 2571.9 C257.9 2571.1 271.4 2569.4 280 2567.3 C288.6 2565.2 298 2561.9 305.3 2559.2 C312.6 2556.5 317.6 2553.3 323.7 2551.2 C329.8 2549.1 335.3 2548.4 342.2 2546.5 C349.1 2544.6 357.5 2541.9 365.2 2539.6 C372.9 2537.3 379.7 2535.2 388.2 2532.7 C396.7 2530.2 408.3 2527.8 416 2524.7 C423.7 2521.6 427.4 2517 434.3 2514.3 C441.2 2511.6 449.7 2510.4 457.4 2508.5 C465.1 2506.6 472.7 2504.9 480.4 2502.8 C488.1 2500.7 495.6 2498 503.5 2495.9 C511.4 2493.8 520.3 2492.3 527.6 2490 C534.9 2487.7 541.6 2484.1 547.2 2482 C552.8 2479.9 554.9 2480.8 561 2477.4 C567.1 2474 576.3 2466.3 584 2461.3 C591.7 2456.3 600.6 2450.9 607.1 2447.5 C613.6 2444.1 618.1 2443.1 623.3 2440.6 C628.4 2438.1 631.1 2438.6 638 2432.5 C644.9 2426.4 657.8 2411.9 664.5 2404.1 C671.2 2396.3 672.9 2393.4 678.3 2385.7 C683.7 2378 691.4 2366.4 696.8 2358 C702.2 2349.6 706 2342.7 710.6 2335 C715.2 2327.3 719.8 2319.7 724.4 2312 C729 2304.3 734.8 2295.1 738.2 2289 C741.6 2282.9 741.1 2281.8 745 2275.6 C748.9 2269.4 756.3 2260.9 761.3 2252 C766.3 2243.1 770.5 2232 775.1 2222 C779.7 2212 784.8 2201 789 2192.2 C793.2 2183.4 798.6 2172.9 800.5 2169" fill="none" stroke="#a0a0a0" stroke-width="4" stroke-linejoin="round" stroke-linecap="round"/>
<path d="M517.3 2551.2 C518.8 2552.3 522.7 2556.5 526.5 2558 C530.3 2559.5 534.5 2561.2 540.3 2560.4 C546 2559.7 553.7 2555.6 561 2553.5 C568.3 2551.4 577.1 2550 584 2547.7 C590.9 2545.4 597.2 2542.9 602.5 2539.6 C607.8 2536.3 611.4 2531.5 616 2528.1 C620.6 2524.7 625.9 2521.2 630.2 2518.9 C634.5 2516.6 637.1 2515.1 641.7 2514.3 C646.3 2513.5 653.1 2514.9 657.6 2514 C662.1 2513.1 663.2 2510.6 669 2509 C674.8 2507.4 685.7 2505.8 692.2 2504.5 C698.8 2503.2 702.2 2500.6 708.3 2501 C714.4 2501.4 720.9 2506.2 729 2507 C737.1 2507.8 749 2504.1 756.7 2506 C764.4 2507.9 768.6 2515.1 775.1 2518.3 C781.6 2521.5 788.6 2522.2 795.9 2525.3 C803.2 2528.4 811.2 2533.4 818.9 2536.8 C826.6 2540.2 834.3 2543.6 842 2546 C849.7 2548.4 857.3 2547.9 865 2551 C872.7 2554.1 878.4 2558.9 888 2564.4 C897.6 2569.9 913 2580.1 922.6 2584 C932.2 2587.9 938.7 2585.8 945.6 2588 C952.5 2590.2 956.6 2594.3 964 2597 C971.4 2599.7 981.5 2601.8 990 2604 C998.5 2606.2 1005 2608.2 1014.8 2610 C1024.5 2611.8 1037.7 2612.3 1048.5 2615 C1059.3 2617.7 1065.8 2622.5 1079.6 2626 C1093.4 2629.5 1114.1 2633.3 1131.4 2636 C1148.7 2638.7 1166 2640.7 1183.3 2642.1 C1200.6 2643.5 1217.8 2643.3 1235.1 2644.7 C1252.4 2646.1 1267.5 2649.3 1287 2650.5 C1306.5 2651.7 1341.2 2651.8 1352 2652" fill="none" stroke="#cc44dd" stroke-width="12" stroke-linejoin="round" stroke-linecap="round"/>
<path d="M517.3 2327 C519.4 2325 525 2319.6 530 2315 C535 2310.4 540.9 2307.4 547.2 2299.5 C553.5 2291.6 561.9 2279.6 568 2267.3 C574.1 2255 578.7 2237.6 584 2225.8 C589.3 2214.1 595.8 2205.5 600 2196.8 C604.2 2188.1 605.9 2182.2 609.2 2173.7 C612.5 2165.2 616.5 2156.6 620 2146 C623.5 2135.4 627.3 2119 630 2110 C632.7 2101 632.4 2098.5 636.2 2092 C640 2085.5 647.4 2078 653 2071 C658.6 2064 663.8 2055.4 669.9 2050 C676 2044.6 683.9 2041 689.5 2038.7 C695.1 2036.5 699.4 2036.2 703.6 2036.5 C707.8 2036.8 710.6 2038.6 714.8 2040.5 C719 2042.4 723.5 2044 729 2048 C734.5 2051.9 740.2 2056.1 747.5 2064.2 C754.8 2072.3 766.7 2086.6 772.8 2096.4 C778.9 2106.2 779.3 2114.4 784.3 2123 C789.3 2131.6 797.8 2140.3 802.8 2148 C807.8 2155.7 809.7 2159.7 814.3 2169 C818.9 2178.3 825.4 2192.2 830.4 2203.7 C835.4 2215.2 839.2 2226.7 844.2 2238.2 C849.2 2249.7 855 2261.3 860.4 2272.8 C865.8 2284.3 870.4 2295.9 876.5 2307.4 C882.6 2318.9 890.3 2331.2 897.2 2342 C904.1 2352.8 910.7 2361.6 918 2371.9 C925.3 2382.2 933.3 2393.7 941 2404 C948.7 2414.3 957.8 2426 964 2434 C970.2 2442 971.7 2444.5 978 2452 C984.3 2459.5 993.5 2469.1 1001.8 2478.8 C1010.1 2488.5 1018.3 2500.1 1027.8 2510 C1037.3 2519.9 1048.1 2529.9 1058.9 2538.5 C1069.7 2547.1 1080.5 2554 1092.6 2561.8 C1104.7 2569.6 1117.2 2577.3 1131.4 2585.1 C1145.7 2592.9 1161.7 2601.9 1178.1 2608.4 C1194.5 2614.9 1211.8 2619.7 1230 2624 C1248.2 2628.3 1266.7 2631.4 1287 2634.4 C1307.3 2637.4 1341.2 2640.7 1352 2642" fill="none" stroke="#ff0000" stroke-width="14" stroke-linejoin="round" stroke-linecap="round"/>
<path d="M519.6 2364 C520.4 2360.2 521.1 2350.6 524.2 2341 C527.3 2331.4 533 2317.2 538 2306.5 C543 2295.8 549.1 2287.2 554.1 2276.5 C559.1 2265.8 564.1 2253.5 568 2242 C571.9 2230.5 572.2 2220.8 577.2 2207.4 C582.2 2194 592.7 2176.7 598 2161.3 C603.3 2145.9 605.7 2128.6 609 2115 C612.3 2101.4 615 2090 618 2080 C621 2070 623.8 2063 627 2055 C630.2 2047 632.8 2039.7 637 2032 C641.2 2024.3 646.7 2016.1 652 2008.8 C657.3 2001.5 663.5 1993.1 669 1988 C674.5 1982.9 680 1980.5 685.3 1978.3 C690.6 1976 696.1 1974.7 700.8 1974.5 C705.5 1974.3 708.3 1974.8 713.4 1977 C718.5 1979.2 726.4 1984.6 731.3 1988 C736.2 1991.4 737.9 1991.1 742.9 1997.3 C747.9 2003.5 754.8 2015 761.3 2025 C767.8 2035 775.9 2047.6 782 2057.2 C788.1 2066.8 793.2 2072.2 798.2 2082.6 C803.2 2093 806.6 2106.9 812 2119.4 C817.4 2131.9 825 2145.5 830.4 2157.6 C835.8 2169.7 839.2 2180.7 844.2 2192.2 C849.2 2203.7 855.6 2215.2 860.4 2226.7 C865.2 2238.2 867.6 2249.1 873 2261.3 C878.4 2273.5 888.5 2291.1 893 2300 C897.5 2308.9 895.1 2306.1 900 2315 C904.9 2323.9 914.8 2340.7 922.6 2353.5 C930.4 2366.3 938.8 2380.2 947 2392 C955.2 2403.8 964.2 2414.7 972 2424 C979.8 2433.3 986.9 2439.3 994 2448 C1001.1 2456.7 1007 2466.4 1014.8 2476.3 C1022.6 2486.2 1032.9 2498.8 1040.7 2507.4 C1048.5 2516 1054.2 2521.2 1061.5 2528.1 C1068.8 2535 1076.6 2542.5 1084.8 2549 C1093 2555.5 1102.4 2561 1110.7 2567 C1119 2573 1124.9 2579.7 1134.6 2585 C1144.3 2590.3 1157.5 2594.9 1169 2599 C1180.5 2603.1 1190.7 2606.4 1203.7 2609.5 C1216.7 2612.6 1233.1 2613.6 1246.9 2617.5 C1260.7 2621.4 1274.3 2629.2 1286.5 2633 C1298.7 2636.8 1309.1 2638.2 1320 2640 C1330.9 2641.8 1346.7 2643.3 1352 2644" fill="none" stroke="#00ee00" stroke-width="14" stroke-linejoin="round" stroke-linecap="round"/>
<path d="M519.6 2292.6 C520.8 2289.7 524.3 2281.5 527 2275 C529.7 2268.5 533.5 2260.9 535.7 2253.5 C537.9 2246.1 538 2238.1 540.3 2230.4 C542.6 2222.7 544.9 2218.9 549.5 2207.4 C554.1 2195.9 563.8 2172.8 568 2161.3 C572.2 2149.8 571.4 2151.1 574.9 2138.2 C578.4 2125.3 585.1 2098.2 589 2084 C592.9 2069.8 595.3 2062.7 598.3 2052.8 C601.2 2042.9 605.1 2032.9 606.7 2024.7 C608.3 2016.5 606 2011.8 608.1 2003.6 C610.2 1995.4 616 1984.8 619.3 1975.5 C622.6 1966.2 624.9 1956.8 627.7 1947.5 C630.5 1938.2 634.1 1927.6 636.2 1919.4 C638.3 1911.2 637.6 1905.3 640.4 1898.3 C643.2 1891.3 649 1884.7 653 1877.2 C657 1869.7 661 1860.4 664.3 1853.4 C667.6 1846.4 669.9 1840.9 672.7 1835.1 C675.5 1829.2 677.9 1822.5 681.1 1818.3 C684.3 1814.1 687.9 1812 692 1810 C696.1 1808 700.2 1805.1 706 1806 C711.8 1806.9 720.9 1811.5 726.7 1815.3 C732.5 1819.1 736.4 1824 740.6 1829 C744.8 1834 748.4 1840.4 752 1845 C755.6 1849.6 759 1850.5 762.4 1856.5 C765.8 1862.5 769.2 1871.7 772.2 1880.8 C775.2 1889.9 777.1 1901.1 780.7 1911.3 C784.4 1921.5 789.9 1931.6 794.1 1941.7 C798.4 1951.8 802.8 1962 806.2 1972.1 C809.7 1982.2 811.5 1992.3 814.8 2002.5 C818 2012.7 821.6 2022.8 825.7 2033 C829.8 2043.2 835.7 2053.8 839.5 2063.4 C843.3 2073 845.5 2080.8 848.5 2090.4 C851.5 2100 854.4 2110.8 857.5 2120.9 C860.6 2131.1 863.4 2141.2 867 2151.3 C870.6 2161.5 875 2171.7 879 2181.8 C883 2192 886.6 2202.1 891 2212.2 C895.4 2222.3 900.9 2232.4 905.5 2242.6 C910.1 2252.8 913.6 2262.9 918.5 2273.1 C923.4 2283.2 930.1 2295.7 935 2303.5 C939.9 2311.3 942.8 2311.6 948 2320 C953.2 2328.4 959.9 2342.6 966 2354 C972.1 2365.4 978.6 2379.2 984.6 2388.6 C990.6 2398 996 2403 1001.8 2410.2 C1007.5 2417.4 1013.3 2424.6 1019.1 2431.8 C1024.9 2439 1030.6 2446.2 1036.4 2453.4 C1042.2 2460.6 1047.9 2467.8 1053.7 2475 C1059.5 2482.2 1065.2 2490.2 1071 2496.7 C1076.8 2503.2 1083.5 2508.3 1088.3 2513.9 C1093.1 2519.5 1095 2524.7 1100 2530.5 C1105 2536.3 1111.1 2542.9 1118.5 2549 C1125.9 2555.1 1134.9 2561 1144.4 2567 C1153.9 2573 1164.7 2579.8 1175.5 2585 C1186.3 2590.2 1199.3 2594.5 1209.2 2598 C1219.1 2601.5 1224.3 2602.9 1235.1 2606 C1245.9 2609.1 1261 2613 1274 2616.5 C1287 2620 1299.4 2623.7 1312.9 2627 C1326.4 2630.3 1348 2635 1355 2636.6" fill="none" stroke="#00c4fa" stroke-width="15.5" stroke-linejoin="round" stroke-linecap="round"/>
<path d="M305.3 2257.9L319.3 2271.9L305.3 2285.9L291.3 2271.9Z" fill="#d84fe6" stroke="#a09494" stroke-width="4" stroke-linejoin="round"/>
<path d="M416 2058.6L430 2072.6L416 2086.6L402 2072.6Z" fill="#d84fe6" stroke="#a09494" stroke-width="4" stroke-linejoin="round"/>
<path d="M527.6 2104.7L541.6 2118.7L527.6 2132.7L513.6 2118.7Z" fill="#d84fe6" stroke="#a09494" stroke-width="4" stroke-linejoin="round"/>
<path d="M638 2146.2L652 2160.2L638 2174.2L624 2160.2Z" fill="#d84fe6" stroke="#a09494" stroke-width="4" stroke-linejoin="round"/>
<path d="M745 2146.4L759 2160.4L745 2174.4L731 2160.4Z" fill="#d84fe6" stroke="#a09494" stroke-width="4" stroke-linejoin="round"/>
<path d="M305.3 2426.6L319.3 2440.6L305.3 2454.6L291.3 2440.6Z" fill="#ff1a00" stroke="#a09494" stroke-width="4" stroke-linejoin="round"/>
<path d="M416 2311.1L430 2325.1L416 2339.1L402 2325.1Z" fill="#ff1a00" stroke="#a09494" stroke-width="4" stroke-linejoin="round"/>
<path d="M527.6 2303L541.6 2317L527.6 2331L513.6 2317Z" fill="#ff1a00" stroke="#a09494" stroke-width="4" stroke-linejoin="round"/>
<path d="M638 2280.8L652 2294.8L638 2308.8L624 2294.8Z" fill="#ff1a00" stroke="#a09494" stroke-width="4" stroke-linejoin="round"/>
<path d="M745 2192.5L759 2206.5L745 2220.5L731 2206.5Z" fill="#ff1a00" stroke="#a09494" stroke-width="4" stroke-linejoin="round"/>
<path d="M305.3 2513.8L319.3 2527.8L305.3 2541.8L291.3 2527.8Z" fill="#00e600" stroke="#a09494" stroke-width="4" stroke-linejoin="round"/>
<path d="M416 2461.1L430 2475.1L416 2489.1L402 2475.1Z" fill="#00e600" stroke="#a09494" stroke-width="4" stroke-linejoin="round"/>
<path d="M527.6 2425.9L541.6 2439.9L527.6 2453.9L513.6 2439.9Z" fill="#00e600" stroke="#a09494" stroke-width="4" stroke-linejoin="round"/>
<path d="M638 2368.6L652 2382.6L638 2396.6L624 2382.6Z" fill="#00e600" stroke="#a09494" stroke-width="4" stroke-linejoin="round"/>
<path d="M745 2219.6L759 2233.6L745 2247.6L731 2233.6Z" fill="#00e600" stroke="#a09494" stroke-width="4" stroke-linejoin="round"/>
<path d="M305.3 2545L319.3 2559L305.3 2573L291.3 2559Z" fill="#00c6f6" stroke="#a09494" stroke-width="4" stroke-linejoin="round"/>
<path d="M416 2510.7L430 2524.7L416 2538.7L402 2524.7Z" fill="#00c6f6" stroke="#a09494" stroke-width="4" stroke-linejoin="round"/>
<path d="M527.6 2476.2L541.6 2490.2L527.6 2504.2L513.6 2490.2Z" fill="#00c6f6" stroke="#a09494" stroke-width="4" stroke-linejoin="round"/>
<path d="M638 2418.2L652 2432.2L638 2446.2L624 2432.2Z" fill="#00c6f6" stroke="#a09494" stroke-width="4" stroke-linejoin="round"/>
<path d="M745 2261.6L759 2275.6L745 2289.6L731 2275.6Z" fill="#00c6f6" stroke="#a09494" stroke-width="4" stroke-linejoin="round"/>
<circle cx="1586.2" cy="1671.5" r="3.3" fill="#1a1a1a"/>
<circle cx="1616.8" cy="1671.5" r="3.3" fill="#1a1a1a"/>
<circle cx="1647.4" cy="1671.5" r="3.3" fill="#1a1a1a"/>
<circle cx="1678" cy="1671.5" r="3.3" fill="#1a1a1a"/>
<circle cx="1708.6" cy="1671.5" r="3.3" fill="#1a1a1a"/>
<circle cx="1739.2" cy="1671.5" r="3.3" fill="#1a1a1a"/>
<circle cx="1769.8" cy="1671.5" r="3.3" fill="#1a1a1a"/>
<circle cx="1800.4" cy="1671.5" r="3.3" fill="#1a1a1a"/>
<circle cx="1831" cy="1671.5" r="3.3" fill="#1a1a1a"/>
<circle cx="1861.6" cy="1671.5" r="3.3" fill="#1a1a1a"/>
<circle cx="1892.2" cy="1671.5" r="3.3" fill="#1a1a1a"/>
<circle cx="1922.8" cy="1671.5" r="3.3" fill="#1a1a1a"/>
<circle cx="1953.4" cy="1671.5" r="3.3" fill="#1a1a1a"/>
<circle cx="1984" cy="1671.5" r="3.3" fill="#1a1a1a"/>
<circle cx="2014.6" cy="1671.5" r="3.3" fill="#1a1a1a"/>
<circle cx="2045.2" cy="1671.5" r="3.3" fill="#1a1a1a"/>
<circle cx="2075.8" cy="1671.5" r="3.3" fill="#1a1a1a"/>
<circle cx="2106.4" cy="1671.5" r="3.3" fill="#1a1a1a"/>
<circle cx="2137" cy="1671.5" r="3.3" fill="#1a1a1a"/>
<circle cx="2167.6" cy="1671.5" r="3.3" fill="#1a1a1a"/>
<circle cx="2198.2" cy="1671.5" r="3.3" fill="#1a1a1a"/>
<circle cx="2228.8" cy="1671.5" r="3.3" fill="#1a1a1a"/>
<circle cx="1583" cy="1707.3" r="3.3" fill="#1a1a1a"/>
<circle cx="1583" cy="1737.9" r="3.3" fill="#1a1a1a"/>
<circle cx="1583" cy="1768.5" r="3.3" fill="#1a1a1a"/>
<circle cx="1583" cy="1799.1" r="3.3" fill="#1a1a1a"/>
<circle cx="1583" cy="1829.7" r="3.3" fill="#1a1a1a"/>
<circle cx="1583" cy="1860.3" r="3.3" fill="#1a1a1a"/>
<circle cx="1583" cy="1890.9" r="3.3" fill="#1a1a1a"/>
<circle cx="1583" cy="1921.5" r="3.3" fill="#1a1a1a"/>
<circle cx="1583" cy="1952.1" r="3.3" fill="#1a1a1a"/>
<circle cx="1583" cy="1982.7" r="3.3" fill="#1a1a1a"/>
<circle cx="1583" cy="2013.3" r="3.3" fill="#1a1a1a"/>
<circle cx="1583" cy="2043.9" r="3.3" fill="#1a1a1a"/>
<circle cx="1583" cy="2074.5" r="3.3" fill="#1a1a1a"/>
<circle cx="1583" cy="2105.1" r="3.3" fill="#1a1a1a"/>
<circle cx="1583" cy="2135.7" r="3.3" fill="#1a1a1a"/>
<circle cx="1583" cy="2166.3" r="3.3" fill="#1a1a1a"/>
<circle cx="1583" cy="2196.9" r="3.3" fill="#1a1a1a"/>
<circle cx="1583" cy="2227.5" r="3.3" fill="#1a1a1a"/>
<circle cx="1583" cy="2258.1" r="3.3" fill="#1a1a1a"/>
<circle cx="1583" cy="2288.7" r="3.3" fill="#1a1a1a"/>
<circle cx="1583" cy="2319.3" r="3.3" fill="#1a1a1a"/>
<circle cx="1583" cy="2349.9" r="3.3" fill="#1a1a1a"/>
<circle cx="1583" cy="2380.5" r="3.3" fill="#1a1a1a"/>
<circle cx="1583" cy="2411.1" r="3.3" fill="#1a1a1a"/>
<circle cx="1583" cy="2441.7" r="3.3" fill="#1a1a1a"/>
<circle cx="1583" cy="2472.3" r="3.3" fill="#1a1a1a"/>
<circle cx="1583" cy="2502.9" r="3.3" fill="#1a1a1a"/>
<circle cx="1583" cy="2533.5" r="3.3" fill="#1a1a1a"/>
<circle cx="2241.2" cy="1690.5" r="3.3" fill="#1a1a1a"/>
<circle cx="2241.2" cy="1721.1" r="3.3" fill="#1a1a1a"/>
<circle cx="2241.2" cy="1751.7" r="3.3" fill="#1a1a1a"/>
<circle cx="2241.2" cy="1782.3" r="3.3" fill="#1a1a1a"/>
<circle cx="2241.2" cy="1812.9" r="3.3" fill="#1a1a1a"/>
<circle cx="2241.2" cy="1843.5" r="3.3" fill="#1a1a1a"/>
<circle cx="2241.2" cy="1874.1" r="3.3" fill="#1a1a1a"/>
<circle cx="2241.2" cy="1904.7" r="3.3" fill="#1a1a1a"/>
<circle cx="2241.2" cy="1935.3" r="3.3" fill="#1a1a1a"/>
<circle cx="2241.2" cy="1965.9" r="3.3" fill="#1a1a1a"/>
<circle cx="2241.2" cy="1996.5" r="3.3" fill="#1a1a1a"/>
<circle cx="2241.2" cy="2027.1" r="3.3" fill="#1a1a1a"/>
<circle cx="2241.2" cy="2057.7" r="3.3" fill="#1a1a1a"/>
<circle cx="2241.2" cy="2088.3" r="3.3" fill="#1a1a1a"/>
<circle cx="2241.2" cy="2118.9" r="3.3" fill="#1a1a1a"/>
<circle cx="2241.2" cy="2149.5" r="3.3" fill="#1a1a1a"/>
<circle cx="2241.2" cy="2180.1" r="3.3" fill="#1a1a1a"/>
<circle cx="2241.2" cy="2210.7" r="3.3" fill="#1a1a1a"/>
<circle cx="2241.2" cy="2241.3" r="3.3" fill="#1a1a1a"/>
<circle cx="2241.2" cy="2271.9" r="3.3" fill="#1a1a1a"/>
<circle cx="2241.2" cy="2302.5" r="3.3" fill="#1a1a1a"/>
<circle cx="2241.2" cy="2333.1" r="3.3" fill="#1a1a1a"/>
<circle cx="2241.2" cy="2363.7" r="3.3" fill="#1a1a1a"/>
<circle cx="2241.2" cy="2394.3" r="3.3" fill="#1a1a1a"/>
<circle cx="2241.2" cy="2424.9" r="3.3" fill="#1a1a1a"/>
<circle cx="2241.2" cy="2455.5" r="3.3" fill="#1a1a1a"/>
<circle cx="2241.2" cy="2486.1" r="3.3" fill="#1a1a1a"/>
<circle cx="2241.2" cy="2516.7" r="3.3" fill="#1a1a1a"/>
<circle cx="2241.2" cy="2547.3" r="3.3" fill="#1a1a1a"/>
<circle cx="1597.8" cy="2549.6" r="3.3" fill="#1a1a1a"/>
<circle cx="1628.4" cy="2549.6" r="3.3" fill="#1a1a1a"/>
<circle cx="1659" cy="2549.6" r="3.3" fill="#1a1a1a"/>
<circle cx="1689.6" cy="2549.6" r="3.3" fill="#1a1a1a"/>
<circle cx="1720.2" cy="2549.6" r="3.3" fill="#1a1a1a"/>
<circle cx="1750.8" cy="2549.6" r="3.3" fill="#1a1a1a"/>
<circle cx="1781.4" cy="2549.6" r="3.3" fill="#1a1a1a"/>
<circle cx="1812" cy="2549.6" r="3.3" fill="#1a1a1a"/>
<circle cx="1842.6" cy="2549.6" r="3.3" fill="#1a1a1a"/>
<circle cx="1873.2" cy="2549.6" r="3.3" fill="#1a1a1a"/>
<circle cx="1903.8" cy="2549.6" r="3.3" fill="#1a1a1a"/>
<circle cx="1934.4" cy="2549.6" r="3.3" fill="#1a1a1a"/>
<circle cx="1965" cy="2549.6" r="3.3" fill="#1a1a1a"/>
<circle cx="1995.6" cy="2549.6" r="3.3" fill="#1a1a1a"/>
<circle cx="2026.2" cy="2549.6" r="3.3" fill="#1a1a1a"/>
<circle cx="2056.8" cy="2549.6" r="3.3" fill="#1a1a1a"/>
<circle cx="2087.4" cy="2549.6" r="3.3" fill="#1a1a1a"/>
<circle cx="2118" cy="2549.6" r="3.3" fill="#1a1a1a"/>
<circle cx="2148.6" cy="2549.6" r="3.3" fill="#1a1a1a"/>
<circle cx="2179.2" cy="2549.6" r="3.3" fill="#1a1a1a"/>
<circle cx="2209.8" cy="2549.6" r="3.3" fill="#1a1a1a"/>
<circle cx="2240.4" cy="2549.6" r="3.3" fill="#1a1a1a"/>
<circle cx="1623.1" cy="1703.9" r="3.3" fill="#1a1a1a"/>
<circle cx="1653.9" cy="1703.9" r="3.3" fill="#1a1a1a"/>
<circle cx="1684.7" cy="1703.9" r="3.3" fill="#1a1a1a"/>
<circle cx="1715.5" cy="1703.9" r="3.3" fill="#1a1a1a"/>
<circle cx="1746.3" cy="1703.9" r="3.3" fill="#1a1a1a"/>
<circle cx="1777.1" cy="1703.9" r="3.3" fill="#1a1a1a"/>
<circle cx="1807.9" cy="1703.9" r="3.3" fill="#1a1a1a"/>
<circle cx="1838.7" cy="1703.9" r="3.3" fill="#1a1a1a"/>
<circle cx="1869.5" cy="1703.9" r="3.3" fill="#1a1a1a"/>
<circle cx="1900.3" cy="1703.9" r="3.3" fill="#1a1a1a"/>
<circle cx="1618.9" cy="1759.9" r="3.3" fill="#1a1a1a"/>
<circle cx="1649.4" cy="1759.9" r="3.3" fill="#1a1a1a"/>
<circle cx="1679.9" cy="1759.9" r="3.3" fill="#1a1a1a"/>
<circle cx="1710.4" cy="1759.9" r="3.3" fill="#1a1a1a"/>
<circle cx="1740.9" cy="1759.9" r="3.3" fill="#1a1a1a"/>
<circle cx="1771.4" cy="1759.9" r="3.3" fill="#1a1a1a"/>
<circle cx="1801.9" cy="1759.9" r="3.3" fill="#1a1a1a"/>
<circle cx="1832.4" cy="1759.9" r="3.3" fill="#1a1a1a"/>
<circle cx="1862.9" cy="1759.9" r="3.3" fill="#1a1a1a"/>
<circle cx="1893.4" cy="1759.9" r="3.3" fill="#1a1a1a"/>
<circle cx="1618.9" cy="1726" r="3.3" fill="#1a1a1a"/>
<circle cx="1915.3" cy="1719" r="3.3" fill="#1a1a1a"/>
<circle cx="1915.3" cy="1749.6" r="3.3" fill="#1a1a1a"/>
<text x="1622" y="1749" font-size="44.5" font-weight="bold" text-anchor="start">Abs. Legend:</text>
<line x1="1621" y1="1811.3" x2="1747" y2="1811.3" stroke="#9a9a9a" stroke-width="5"/>
<path d="M1682.7 1789.8L1704.2 1811.3L1682.7 1832.8L1661.2 1811.3Z" fill="#e055f5" stroke="#e055f5" stroke-width="1" stroke-linejoin="round"/>
<text x="1768.5" y="1827.5" font-size="46" font-weight="bold" text-anchor="start">4 + 54 <tspan font-weight="normal">&#956;</tspan>M bp DNA</text>
<line x1="1621" y1="1894.3" x2="1747" y2="1894.3" stroke="#9a9a9a" stroke-width="5"/>
<path d="M1682.7 1872.8L1704.2 1894.3L1682.7 1915.8L1661.2 1894.3Z" fill="#ff2200" stroke="#ff2200" stroke-width="1" stroke-linejoin="round"/>
<text x="1768.5" y="1909.6" font-size="46" font-weight="bold" text-anchor="start">4 + 260 <tspan font-weight="normal">&#956;</tspan>M bp DNA</text>
<line x1="1621" y1="1978.4" x2="1747" y2="1978.4" stroke="#9a9a9a" stroke-width="5"/>
<path d="M1682.7 1956.9L1704.2 1978.4L1682.7 1999.9L1661.2 1978.4Z" fill="#00dd00" stroke="#00dd00" stroke-width="1" stroke-linejoin="round"/>
<text x="1768.5" y="1989.7" font-size="46" font-weight="bold" text-anchor="start">4 + 546 <tspan font-weight="normal">&#956;</tspan>M bp DNA</text>
<line x1="1621" y1="2053.1" x2="1747" y2="2053.1" stroke="#9a9a9a" stroke-width="5"/>
<path d="M1682.7 2031.6L1704.2 2053.1L1682.7 2074.6L1661.2 2053.1Z" fill="#00f6f0" stroke="#00f6f0" stroke-width="1" stroke-linejoin="round"/>
<text x="1768.5" y="2064.2" font-size="46" font-weight="bold" text-anchor="start">4 + 1117 <tspan font-weight="normal">&#956;</tspan>M bp DNA</text>
<line x1="1619" y1="2106" x2="2224" y2="2106" stroke="#111" stroke-width="7.5" stroke-dasharray="22.5 8.1"/>
<circle cx="1623.1" cy="2148.8" r="3.3" fill="#1a1a1a"/>
<circle cx="1653.8" cy="2148.8" r="3.3" fill="#1a1a1a"/>
<circle cx="1684.5" cy="2148.8" r="3.3" fill="#1a1a1a"/>
<circle cx="1715.2" cy="2148.8" r="3.3" fill="#1a1a1a"/>
<circle cx="1745.9" cy="2148.8" r="3.3" fill="#1a1a1a"/>
<circle cx="1776.6" cy="2148.8" r="3.3" fill="#1a1a1a"/>
<circle cx="1807.3" cy="2148.8" r="3.3" fill="#1a1a1a"/>
<circle cx="1838" cy="2148.8" r="3.3" fill="#1a1a1a"/>
<circle cx="1868.7" cy="2148.8" r="3.3" fill="#1a1a1a"/>
<circle cx="1899.4" cy="2148.8" r="3.3" fill="#1a1a1a"/>
<circle cx="1930.1" cy="2148.8" r="3.3" fill="#1a1a1a"/>
<circle cx="1637" cy="2204.8" r="3.3" fill="#1a1a1a"/>
<circle cx="1667.4" cy="2204.8" r="3.3" fill="#1a1a1a"/>
<circle cx="1697.8" cy="2204.8" r="3.3" fill="#1a1a1a"/>
<circle cx="1728.2" cy="2204.8" r="3.3" fill="#1a1a1a"/>
<circle cx="1758.6" cy="2204.8" r="3.3" fill="#1a1a1a"/>
<circle cx="1789" cy="2204.8" r="3.3" fill="#1a1a1a"/>
<circle cx="1819.4" cy="2204.8" r="3.3" fill="#1a1a1a"/>
<circle cx="1849.8" cy="2204.8" r="3.3" fill="#1a1a1a"/>
<circle cx="1880.2" cy="2204.8" r="3.3" fill="#1a1a1a"/>
<circle cx="1910.6" cy="2204.8" r="3.3" fill="#1a1a1a"/>
<circle cx="1941" cy="2204.8" r="3.3" fill="#1a1a1a"/>
<circle cx="1621" cy="2161.4" r="3.3" fill="#1a1a1a"/>
<circle cx="1621" cy="2190.9" r="3.3" fill="#1a1a1a"/>
<circle cx="1940.6" cy="2172" r="3.3" fill="#1a1a1a"/>
<circle cx="1940.6" cy="2197.2" r="3.3" fill="#1a1a1a"/>
<text x="1622" y="2194.5" font-size="44.5" font-weight="bold" text-anchor="start">Fluor. Legend:</text>
<line x1="1625" y1="2250.6" x2="1741" y2="2250.6" stroke="#c822e6" stroke-width="8" stroke-linecap="round"/>
<text x="1781.5" y="2267" font-size="46" font-weight="bold" text-anchor="start">4 + 38 <tspan font-weight="normal">&#956;</tspan>M bp DNA</text>
<line x1="1625" y1="2334.6" x2="1741" y2="2334.6" stroke="#ff1000" stroke-width="9" stroke-linecap="round"/>
<text x="1781.5" y="2349" font-size="46" font-weight="bold" text-anchor="start">4 + 260 <tspan font-weight="normal">&#956;</tspan>M bp DNA</text>
<line x1="1625" y1="2417.5" x2="1741" y2="2417.5" stroke="#00e000" stroke-width="10" stroke-linecap="round"/>
<text x="1781.5" y="2430.4" font-size="46" font-weight="bold" text-anchor="start">4 + 520 <tspan font-weight="normal">&#956;</tspan>M bp DNA</text>
<line x1="1625" y1="2492.6" x2="1741" y2="2492.6" stroke="#00f6f0" stroke-width="11" stroke-linecap="round"/>
<text x="1781.5" y="2504.4" font-size="46" font-weight="bold" text-anchor="start">4 + 1117 <tspan font-weight="normal">&#956;</tspan>M bp DNA</text>
</svg>
</body></html>
